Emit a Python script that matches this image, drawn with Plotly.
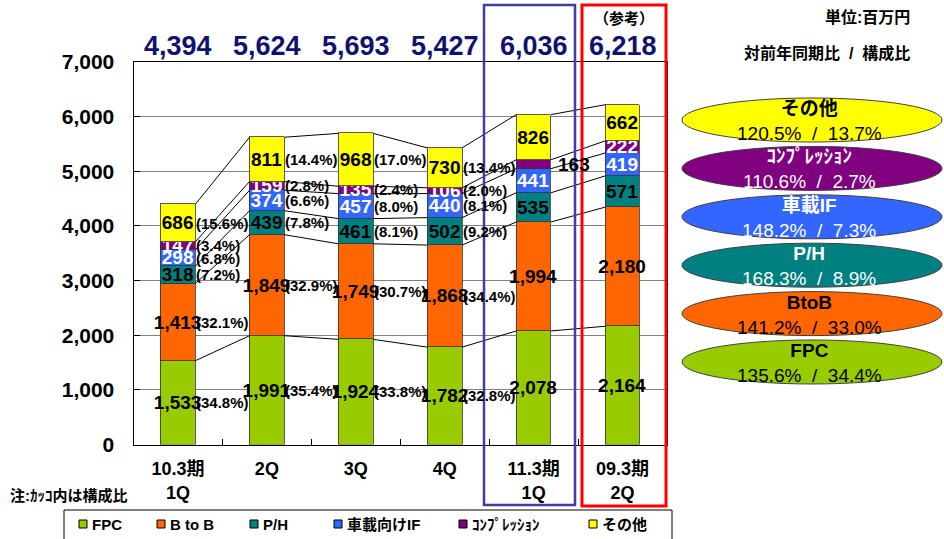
import plotly.graph_objects as go

W, H = 944, 539

periods = ["10.3期<br>1Q", "2Q", "3Q", "4Q", "11.3期<br>1Q", "09.3期<br>2Q"]
series_names = ["FPC", "B to B", "P/H", "車載向けIF", "ｺﾝﾌﾟﾚｯｼｮﾝ", "その他"]
fpc = [1533, 1991, 1924, 1782, 2078, 2164]
btob = [1413, 1849, 1749, 1868, 1994, 2180]
ph = [318, 439, 461, 502, 535, 571]
car_if = [298, 374, 457, 440, 441, 419]
compression = [147, 159, 135, 106, 163, 222]
other = [686, 811, 968, 730, 826, 662]
totals = [4394, 5624, 5693, 5427, 6036, 6218]

# composition ratio (%) shown beside the first four bars
fpc_pct = [34.8, 35.4, 33.8, 32.8]
btob_pct = [32.1, 32.9, 30.7, 34.4]
ph_pct = [7.2, 7.8, 8.1, 9.2]
car_if_pct = [6.8, 6.6, 8.0, 8.1]
compression_pct = [3.4, 2.8, 2.4, 2.0]
other_pct = [15.6, 14.4, 17.0, 13.4]

# right-hand bubbles: year-on-year / composition
bubble_names = ["FPC", "BtoB", "P/H", "車載IF", "ｺﾝﾌﾟﾚｯｼｮﾝ", "その他"]
yoy = [135.6, 141.2, 168.3, 148.2, 110.6, 120.5]
share = [34.4, 33.0, 8.9, 7.3, 2.7, 13.7]

colors = ["#99CC00", "#FF6600", "#008080", "#3366FF", "#800080", "#FFFF00"]
text_colors = ["black", "black", "black", "white", "white", "black"]
bubble_text_colors = ["black", "black", "white", "white", "white", "black"]

FONT = "Liberation Sans, Arial, Noto Sans CJK JP"
NAVY = "#12126e"
BAR_W = 0.39
SP = "\u00a0\u00a0"


def px(x):
    return x / W


def py(y):
    return 1 - y / H


def note(x, y, text, size, color="black", bold=True, xanchor="center", xref="paper", yref="paper"):
    return dict(x=x, y=y, xref=xref, yref=yref, text=text, showarrow=False,
                xanchor=xanchor, yanchor="middle",
                font=dict(family=FONT, size=size, color=color, weight="bold" if bold else "normal"))


values = [fpc, btob, ph, car_if, compression, other]
pcts = [fpc_pct, btob_pct, ph_pct, car_if_pct, compression_pct, other_pct]
n = len(periods)
xs = list(range(n))

# cumulative tops of each stacked segment
tops = []
run = [0] * n
for vals in values:
    run = [r + v for r, v in zip(run, vals)]
    tops.append(run)

fig = go.Figure()

# series lines between neighbouring bars
lx, ly = [], []
for k in range(len(values)):
    for i in range(n - 1):
        lx += [i + BAR_W / 2, i + 1 - BAR_W / 2, None]
        ly += [tops[k][i], tops[k][i + 1], None]
fig.add_trace(go.Scatter(x=lx, y=ly, mode="lines", line=dict(color="black", width=1),
                         hoverinfo="skip", showlegend=False))

for k, vals in enumerate(values):
    labels = [f"{v:,}" for v in vals]
    if k == 4:
        labels[4] = ""  # 11.3期1Q label sits beside the bar
    fig.add_trace(go.Bar(
        x=xs, y=vals, name=series_names[k], width=BAR_W,
        marker=dict(color=colors[k], line=dict(color="#333333", width=0.8)),
        text=labels, textposition="inside", insidetextanchor="middle",
        textangle=0, constraintext="none",
        textfont=dict(family=FONT, size=19, color=text_colors[k], weight="bold"),
        showlegend=False,
    ))

annotations = []

# composition ratios beside bars
for k, plist in enumerate(pcts):
    for i, p in enumerate(plist):
        mid = tops[k][i] - values[k][i] / 2
        annotations.append(note(i + BAR_W / 2 - 0.01, mid, f"({p:.1f}%)", 15,
                                xanchor="left", xref="x", yref="y"))

annotations.append(note(4 + BAR_W / 2 + 0.06, tops[4][4] - compression[4] / 2, f"{compression[4]:,}",
                        19, xanchor="left", xref="x", yref="y"))

# totals above the plot
for i, t in enumerate(totals):
    annotations.append(note(i, py(46), f"{t:,}", 27, color=NAVY, xref="x"))

annotations += [
    note(px(624), py(18), "（参考）", 15),
    note(px(912), py(17), "単位:百万円", 16, xanchor="right"),
    note(px(912), py(53), "対前年同期比" + SP + "/" + SP + "構成比", 16, xanchor="right"),
    note(px(8), py(495), "注:ｶｯｺ内は構成比", 15, xanchor="left"),
]

shapes = [
    dict(type="rect", xref="paper", yref="paper", x0=px(484), x1=px(575), y0=py(5), y1=py(505),
         line=dict(color="#3F3F9F", width=2.5)),
    dict(type="rect", xref="paper", yref="paper", x0=px(582), x1=px(666), y0=py(5), y1=py(506),
         line=dict(color="#FF0000", width=3)),
    dict(type="rect", xref="paper", yref="paper", x0=px(64), x1=px(672), y0=py(510), y1=py(545),
         line=dict(color="black", width=1), fillcolor="white"),
]

# right-hand bubbles, top to bottom
for j in range(6):
    k = 5 - j
    yc = 120 + 48.4 * j
    shapes.append(dict(type="circle", xref="paper", yref="paper", x0=px(682), x1=px(942),
                       y0=py(yc - 22), y1=py(yc + 22), fillcolor=colors[k],
                       line=dict(color="#404040", width=1)))
    annotations.append(note(px(809), py(yc + 1),
                            f"<b>{bubble_names[k]}</b><br>{yoy[k]:.1f}%{SP}/{SP}{share[k]:.1f}%",
                            19, color=bubble_text_colors[k], bold=False))

# legend at the bottom
legend_x = [83, 161, 254, 338, 463, 593]
for k, lxp in enumerate(legend_x):
    shapes.append(dict(type="rect", xref="paper", yref="paper", x0=px(lxp - 4), x1=px(lxp + 4),
                       y0=py(528), y1=py(520), fillcolor=colors[k], line=dict(color="black", width=1)))
    annotations.append(note(px(lxp + 7), py(524), series_names[k], 15, xanchor="left"))

fig.update_layout(
    width=W, height=H,
    margin=dict(l=0, r=0, t=0, b=0),
    paper_bgcolor="white", plot_bgcolor="white",
    barmode="stack", bargap=0,
    showlegend=False,
    xaxis=dict(domain=[px(133.5), px(667)], range=[-0.5, n - 0.5], tickvals=xs, ticktext=periods,
               ticks="", showgrid=False, zeroline=False, showline=True, linecolor="black",
               mirror=True, automargin=False, ticklabelstandoff=8,
               tickfont=dict(family=FONT, size=18, color="black", weight="bold"),
               minor=dict(tickvals=[i + 0.5 for i in range(n - 1)], ticks="inside",
                          ticklen=6, tickcolor="black", showgrid=False)),
    yaxis=dict(domain=[py(444.5), py(62)], range=[0, 7000], dtick=1000, tickformat=",",
               showgrid=True, gridcolor="#808080", gridwidth=1, zeroline=False,
               showline=True, linecolor="black", mirror=True, ticks="inside", ticklen=6,
               tickcolor="black", automargin=False, ticklabelstandoff=14,
               tickfont=dict(family=FONT, size=21, color="black", weight="bold")),
    annotations=annotations,
    shapes=shapes,
)

fig.write_html("out.html", config={"displayModeBar": False},
               post_script="document.body.style.margin='0';")
